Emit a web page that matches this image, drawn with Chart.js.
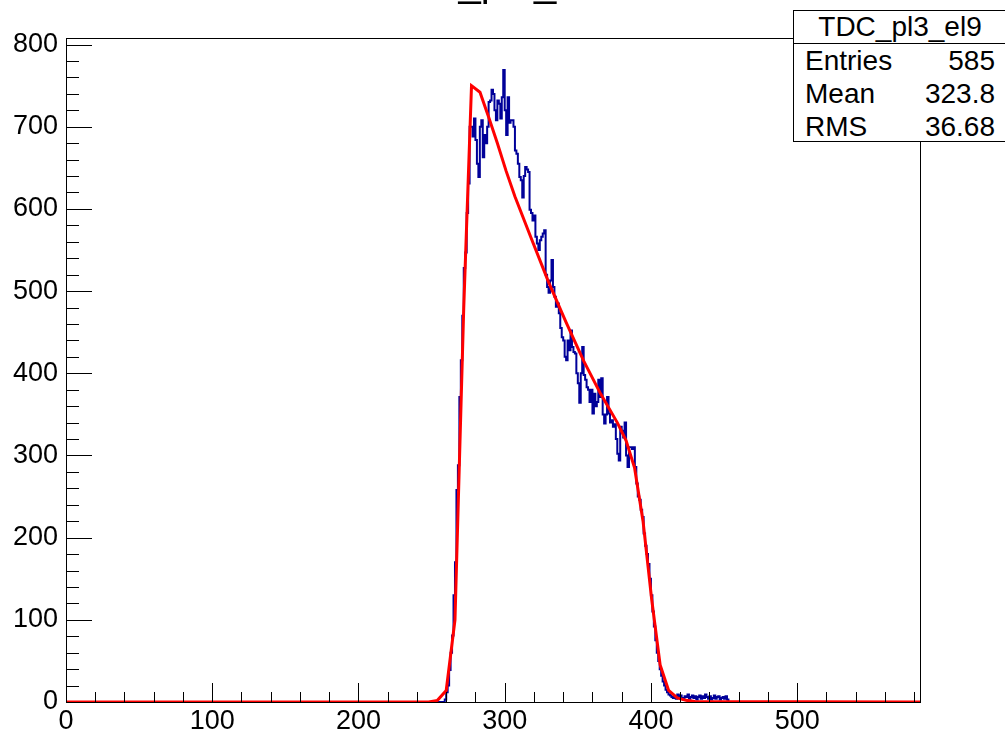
<!DOCTYPE html>
<html>
<head>
<meta charset="utf-8">
<script src="https://cdn.jsdelivr.net/npm/chart.js@4.4.1/dist/chart.umd.min.js"></script>
<style>
  html, body { margin: 0; padding: 0; background: #fff; overflow: hidden; }
  #wrap { position: relative; width: 1005px; height: 730px; font-family: "Liberation Sans", Arial, sans-serif; }
  #title { position: absolute; left: 0; width: 986px; top: -38px; text-align: center;
           font-size: 40px; line-height: 40px; color: #000; white-space: nowrap; }
  #stats { position: absolute; left: 793px; top: 10px; width: 214px; height: 132px;
           border: 1px solid #000; background: #fff; box-sizing: border-box; font-size: 28px; color: #000; }
  #stats .hd { height: 32px; line-height: 32px; text-align: center; border-bottom: 1px solid #000; }
  #stats .row { display: flex; justify-content: space-between; height: 33px; line-height: 33px;
                padding: 0 11px 0 11px; }
</style>
</head>
<body>
<div id="wrap">
  <canvas id="c" width="1005" height="730"></canvas>
  <div id="title">TDC_pl3_el9</div>
  <div id="stats">
    <div class="hd">TDC_pl3_el9</div>
    <div class="row"><span>Entries</span><span>585</span></div>
    <div class="row"><span>Mean</span><span>323.8</span></div>
    <div class="row"><span>RMS</span><span>36.68</span></div>
  </div>
</div>
<script>
// TDC histogram (1 unit bins) with a red fit curve, ROOT-style frame.
const xMin = 0, xMax = 584;
const yMin = 0, yMax = 808;
const xTickLabels = [0, 100, 200, 300, 400, 500];
const yTickLabels = [0, 100, 200, 300, 400, 500, 600, 700, 800];

// histogram contents, first entry is bin 255
const binStart = 255;
const counts = [
  0, 0, 0, 0, 3, 12, 20, 39, 60, 81,                 // 255-264
  130, 170, 258, 288, 371, 416, 470, 528, 547, 595,  // 265-274
  631, 700, 700, 688, 710, 684, 655, 639, 700, 708,  // 275-284
  663, 690, 680, 700, 730, 732, 745, 740, 720, 708,  // 285-294
  732, 728, 710, 736, 769, 720, 690, 736, 705, 708,  // 295-304
  708, 700, 671, 667, 655, 639, 635, 614, 640, 651,  // 305-314
  648, 645, 599, 595, 586, 592, 566, 558, 550, 562,  // 315-324
  566, 570, 574, 520, 505, 498, 513, 538, 505, 493,  // 325-334
  481, 485, 473, 455, 444, 440, 420, 416, 440, 428,  // 335-344
  452, 432, 426, 424, 400, 388, 364, 400, 432, 398,  // 345-354
  392, 383, 380, 365, 380, 351, 375, 360, 365, 392,  // 355-364
  371, 394, 350, 339, 350, 371, 351, 340, 343, 335,  // 365-374
  338, 320, 302, 294, 335, 330, 322, 340, 300, 286,  // 375-384
  310, 310, 308, 310, 286, 266, 250, 246, 234, 225,  // 385-394
  205, 190, 180, 168, 150, 130, 110, 92, 75, 60,     // 395-404
  50, 40, 32, 25, 20, 15, 12, 9, 8, 6,               // 405-414
  5, 7, 4, 9, 6, 8, 5, 3, 7, 6,                      // 415-424
  9, 4, 6, 8, 5, 7, 3, 6, 8, 4,                      // 425-434
  7, 5, 9, 6, 4, 7, 3, 5, 8, 4,                      // 435-444
  6, 7, 3, 5, 6, 4, 7, 3                             // 445-452
];

// fit curve vertices (polyline as drawn)
const fitX = [0, 248, 254, 260, 266, 272, 277.3, 283.1, 289, 295, 301, 307, 318, 330,
              342, 354, 365.6, 377, 383, 388.8, 394.6, 400.5, 406.3, 412.1, 418, 424, 430, 584];
const fitY = [0, 0, 2, 14, 100, 480, 750, 742, 712, 680, 646, 615, 565, 511,
              462, 415, 375, 340, 318, 285, 220, 125, 45, 14, 5, 2, 0.5, 0];

const histPts = [{ x: xMin, y: 0 }];
counts.forEach((c, i) => histPts.push({ x: binStart + i + 0.5, y: c }));
histPts.push({ x: binStart + counts.length + 0.5, y: 0 }, { x: xMax, y: 0 });
const fitPts = fitX.map((x, i) => ({ x, y: fitY[i] }));

const FONT = { family: '"Liberation Sans", Arial, sans-serif', size: 27 };

// frame + inward ticks, ROOT style
const rootFrame = {
  id: 'rootFrame',
  afterDraw(chart) {
    const { ctx, chartArea: a, scales: { x, y } } = chart;
    ctx.save();
    ctx.strokeStyle = '#000';
    ctx.lineWidth = 1;
    ctx.beginPath();
    for (let v = 0; v <= xMax; v += 20) {
      const px = Math.round(x.getPixelForValue(v)) + 0.5;
      const len = v % 100 === 0 ? 19 : 10;
      ctx.moveTo(px, a.bottom); ctx.lineTo(px, a.bottom - len);
    }
    for (let v = 0; v <= yMax; v += 20) {
      const py = Math.round(y.getPixelForValue(v)) + 0.5;
      const len = v % 100 === 0 ? 26 : 13;
      ctx.moveTo(a.left, py); ctx.lineTo(a.left + len, py);
    }
    ctx.stroke();
    ctx.strokeRect(Math.round(a.left) + 0.5, Math.round(a.top) + 0.5,
                   Math.round(a.right - a.left), Math.round(a.bottom - a.top));
    ctx.restore();
  }
};

new Chart(document.getElementById('c'), {
  type: 'line',
  data: {
    datasets: [
      { data: fitPts, borderColor: '#ff0000', borderWidth: 3, pointRadius: 0,
        tension: 0, order: 0 },
      { data: histPts, borderColor: '#000099', borderWidth: 2, pointRadius: 0,
        stepped: 'middle', order: 1 },
    ]
  },
  options: {
    responsive: false,
    animation: false,
    devicePixelRatio: 1,
    layout: { padding: { left: 0, right: 85, top: 38, bottom: 0 } },
    plugins: { legend: { display: false }, tooltip: { enabled: false } },
    scales: {
      x: {
        type: 'linear', min: xMin, max: xMax,
        grid: { display: false, drawTicks: false },
        border: { display: false },
        afterBuildTicks: s => { s.ticks = xTickLabels.map(v => ({ value: v })); },
        afterFit: s => { s.height = 28; },
        ticks: { color: '#000', font: FONT, padding: 3, maxRotation: 0, autoSkip: false },
      },
      y: {
        type: 'linear', min: yMin, max: yMax,
        grid: { display: false, drawTicks: false },
        border: { display: false },
        afterBuildTicks: s => { s.ticks = yTickLabels.map(v => ({ value: v })); },
        afterFit: s => { s.width = 66; },
        ticks: { color: '#000', font: FONT, padding: 8, autoSkip: false },
      },
    },
  },
  plugins: [rootFrame],
});
</script>
</body>
</html>
